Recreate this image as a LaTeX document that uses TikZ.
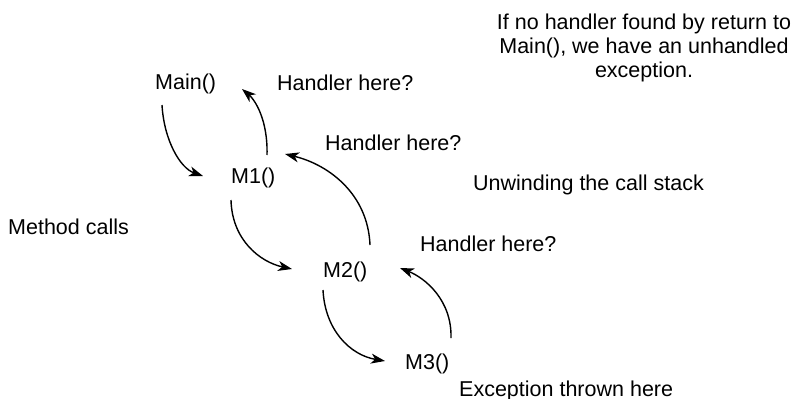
\documentclass[tikz,border=0pt]{standalone}
\usepackage{fontspec}
\setmainfont{Liberation Sans}
\usetikzlibrary{arrows.meta,calc}
\begin{document}
\begin{tikzpicture}[x=1pt,y=-1pt,
  lbl/.style={inner sep=0pt,anchor=base west,font=\fontsize{21.5}{24}\selectfont},
  arr/.style={line width=1.4pt,-{Stealth[length=14pt,width=10pt,inset=4pt]}}]
\useasboundingbox (0,0) rectangle (798,399);
\node[lbl] (main) at (155,89) {Main()};
\node[lbl] (m1) at (231,183) {M1()};
\node[lbl] (m2) at (323,277) {M2()};
\node[lbl] (m3) at (405,369) {M3()};
\node[lbl] (h1) at (277,90) {Handler here?};
\node[lbl] (h2) at (325,150) {Handler here?};
\node[lbl] (h3) at (420,251) {Handler here?};
\node[lbl] (calls) at (8,234) {Method calls};
\node[lbl] (unw) at (473,190) {Unwinding the call stack};
\node[lbl] (exc) at (459,396) {Exception thrown here};
\node[inner sep=0pt,anchor=base,align=center,font=\fontsize{21.5}{24}\selectfont] (note) at (644,77)
  {If no handler found by return to\\Main(), we have an unhandled\\exception.};
% method calls (down)
\draw[arr] ($(main.base west)+(7,16)$) .. controls (164,140) and (180,168) .. ($(m1.base west)+(-28,-7)$);
\draw[arr] ($(m1.base west)+(0,17)$) .. controls (232,240) and (260,262) .. ($(m2.base west)+(-31,-8)$);
\draw[arr] ($(m2.base west)+(0,13)$) .. controls (325,330) and (350,355) .. ($(m3.base west)+(-20,-8)$);
% unwinding (up)
\draw[arr] ($(m3.base west)+(46,-31)$) .. controls (452,300) and (425,278) .. ($(m2.base west)+(77,-9)$);
\draw[arr] ($(m2.base west)+(47,-32)$) .. controls (368,195) and (330,165) .. ($(m1.base west)+(54,-29)$);
\draw[arr] ($(m1.base west)+(36,-28)$) .. controls (268,120) and (255,100) .. ($(main.base west)+(87,0)$);
\end{tikzpicture}
\end{document}
